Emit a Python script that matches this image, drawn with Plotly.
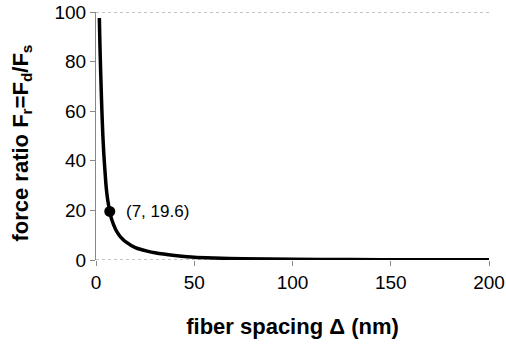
import plotly.graph_objects as go

# data
spacing_nm = [1.7, 2.0, 2.3, 2.6, 3.0, 3.5, 4.0, 5.0, 5.5, 6.0, 7.0, 8.0, 10, 12, 13.5, 15,
              20, 26, 30, 40, 50, 60, 75, 100, 130, 160, 200]
force_ratio = [97.6, 87, 78, 70, 60, 50, 42.5, 31, 27, 24, 19.6, 16.3, 12.3, 9.8, 8.5, 7.4,
               5.0, 3.6, 2.9, 1.8, 1.1, 0.8, 0.5, 0.3, 0.18, 0.12, 0.08]
point_x = [7]
point_y = [19.6]
point_label = ["(7, 19.6)"]
x_ticks = [0, 50, 100, 150, 200]
y_ticks = [0, 20, 40, 60, 80, 100]
x_title = "<b>fiber spacing Δ (nm)</b>"
y_title = "<b>force ratio F<sub>r</sub>=F<sub>d</sub>/F<sub>s</sub></b>"

FONT = "Liberation Sans, Arial, Helvetica, sans-serif"

fig = go.Figure()
fig.add_trace(go.Scatter(x=spacing_nm, y=force_ratio, mode="lines",
                         line=dict(color="black", width=3.5, shape="spline", smoothing=0.6),
                         showlegend=False, hoverinfo="skip"))
fig.add_trace(go.Scatter(x=point_x, y=point_y, mode="markers",
                         marker=dict(color="black", size=11),
                         showlegend=False))
fig.add_annotation(x=point_x[0], y=point_y[0], text=point_label[0], showarrow=False,
                   xanchor="left", yanchor="middle", xshift=14,
                   font=dict(family=FONT, size=17, color="black"))
fig.add_annotation(xref="paper", yref="paper", x=-0.188, y=0.47, text=y_title,
                   showarrow=False, textangle=-90, xanchor="center", yanchor="middle",
                   font=dict(family=FONT, size=22, color="black"))

# dotted gray lines at top (y=100) and bottom (y=0)
for yv in (y_ticks[0], y_ticks[-1]):
    fig.add_shape(type="line", xref="paper", x0=0, x1=1, yref="y", y0=yv, y1=yv,
                  line=dict(color="#888888", width=1, dash="dot"), layer="below")

fig.update_layout(
    width=506, height=353,
    margin=dict(l=96, r=17, t=12, b=93),
    paper_bgcolor="white", plot_bgcolor="white",
    font=dict(family=FONT, color="black"),
    xaxis=dict(range=[0, 200], tickvals=x_ticks, showgrid=False, zeroline=False,
               showline=False, ticks="outside", ticklen=5, tickcolor="#888888",
               tickfont=dict(size=19), automargin=False,
               title=dict(text=x_title, font=dict(size=22), standoff=26)),
    yaxis=dict(range=[0, 100], tickvals=y_ticks, showgrid=False, zeroline=False,
               showline=True, linecolor="#888888", linewidth=1,
               ticks="outside", ticklen=5, tickcolor="#888888",
               tickfont=dict(size=19), automargin=False),
)

fig.write_html("out.html")
